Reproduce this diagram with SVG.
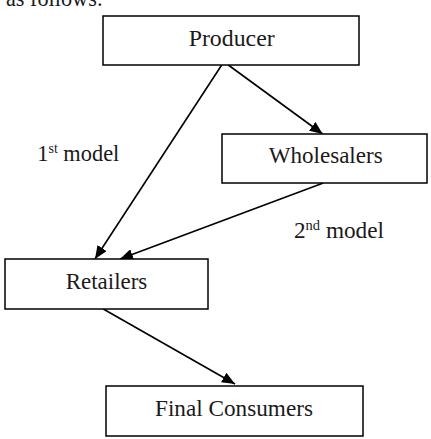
<svg xmlns="http://www.w3.org/2000/svg" width="431" height="439" viewBox="0 0 431 439">
<defs>
<style>
.box{fill:#fff;stroke:#000;stroke-width:1.5}
.t{font-family:"Liberation Serif","Times New Roman",serif;font-size:22.5px;fill:#1a1a1a}
.c{stroke:#000;stroke-width:1.6;fill:none;marker-end:url(#ah)}
.sup{font-size:14px}
</style>
<marker id="ah" viewBox="0 0 13 11" refX="13" refY="5.5" markerWidth="13" markerHeight="11" markerUnits="userSpaceOnUse" orient="auto">
<path d="M0,0 L13,5.5 L0,11 z" fill="#000"/>
</marker>
</defs>
<rect width="431" height="439" fill="#fff"/>
<text class="t" x="6" y="5.5" textLength="97" lengthAdjust="spacingAndGlyphs">as follows:</text>
<g id="connectors">
<line class="c" x1="221.7" y1="65" x2="95" y2="259"/>
<line class="c" x1="228.3" y1="65" x2="322.7" y2="134"/>
<line class="c" x1="323.3" y1="183" x2="120" y2="259"/>
<line class="c" x1="103.3" y1="309" x2="235" y2="384"/>
</g>
<g id="producer">
<rect class="box" x="103" y="16" width="256" height="49"/>
<text class="t" x="188.7" y="45.5" textLength="86" lengthAdjust="spacingAndGlyphs">Producer</text>
</g>
<g id="wholesalers">
<rect class="box" x="222" y="134" width="205" height="49"/>
<text class="t" x="268.7" y="163" textLength="114" lengthAdjust="spacingAndGlyphs">Wholesalers</text>
</g>
<g id="retailers">
<rect class="box" x="5" y="259" width="203" height="50"/>
<text class="t" x="65.7" y="288.5" textLength="81.6" lengthAdjust="spacingAndGlyphs">Retailers</text>
</g>
<g id="final-consumers">
<rect class="box" x="106" y="386" width="257" height="50"/>
<text class="t" x="155" y="415.5" textLength="158" lengthAdjust="spacingAndGlyphs">Final Consumers</text>
</g>
<g id="labels">
<text class="t" x="37.3" y="161" textLength="82" lengthAdjust="spacingAndGlyphs">1<tspan class="sup" dy="-8">st</tspan><tspan dy="8"> model</tspan></text>
<text class="t" x="294" y="237.7" textLength="90" lengthAdjust="spacingAndGlyphs">2<tspan class="sup" dy="-8">nd</tspan><tspan dy="8"> model</tspan></text>
</g>
</svg>
